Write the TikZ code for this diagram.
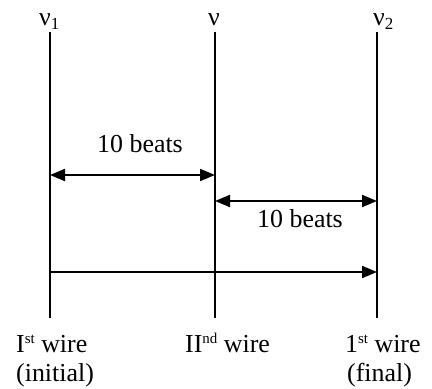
\documentclass[tikz,border=0pt]{standalone}
\usepackage{fontspec}
\setmainfont{Liberation Serif}
\usetikzlibrary{arrows.meta}
\newcommand{\supx}[1]{\raisebox{9bp}{\fontsize{15}{15}\selectfont #1}}
\newcommand{\subx}[1]{\raisebox{-4bp}{\fontsize{17}{17}\selectfont #1}}
\begin{document}
\begin{tikzpicture}[x=1bp,y=-1bp,
  wire/.style={line width=2bp},
  tip/.tip={Triangle[length=15bp,width=12bp]},
  dim/.style={line width=2bp},
  lbl/.style={font=\fontsize{26}{30}\selectfont, inner sep=0pt, anchor=base west}]
\useasboundingbox (0,0) rectangle (432,389);
% wires
\coordinate (w1t) at (50,32);  \coordinate (w1b) at (50,318);
\coordinate (w2t) at (215,32); \coordinate (w2b) at (215,318);
\coordinate (w3t) at (377,32); \coordinate (w3b) at (377,318);
\draw[wire] (w1t) -- (w1b);
\draw[wire] (w2t) -- (w2b);
\draw[wire] (w3t) -- (w3b);
% top labels
\node[lbl] (n1) at (39,25) {ν\subx{1}};
\node[lbl] (n0) at (208,25) {ν};
\node[lbl] (n2) at (373,25) {ν\subx{2}};
% arrows
\coordinate (a1l) at (50,175);  \coordinate (a1r) at (215,175);
\coordinate (a2l) at (215,201); \coordinate (a2r) at (377,201);
\coordinate (a3l) at (50,272);  \coordinate (a3r) at (377,272);
\draw[dim,{tip}-{tip}] (a1l) -- (a1r);
\draw[dim,{tip}-{tip}] (a2l) -- (a2r);
\draw[dim,-{tip}] (a3l) -- (a3r);
\node[lbl] (b1) at (97,152) {10 beats};
\node[lbl] (b2) at (257,227) {10 beats};
% bottom labels
\node[lbl] (l1) at (16,352) {I\supx{st} wire};
\node[lbl] (l1b) at (16,381) {(initial)};
\node[lbl] (l2) at (185,352) {II\supx{nd} wire};
\node[lbl] (l3) at (345,352) {1\supx{st} wire};
\node[lbl] (l3b) at (347,381) {(final)};
\end{tikzpicture}
\end{document}
